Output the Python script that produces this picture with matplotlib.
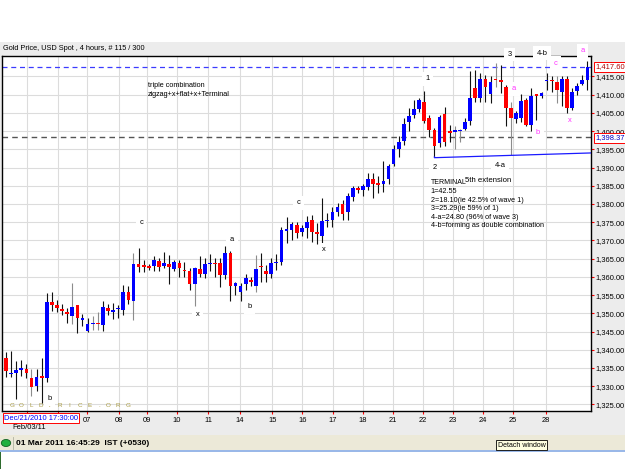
import matplotlib
matplotlib.use('Agg')
import matplotlib.pyplot as plt
from matplotlib.patches import Rectangle, Circle

plt.rcParams['font.family'] = ['Liberation Sans', 'DejaVu Sans']

# ---------------- data (4-hour candles, Gold USD spot) ----------------
opens = [1337.8, 1333.4, 1333.6, 1334.6, 1334.8, 1332.3, 1330.0, 1332.6, 1332.3, 1353.1,
         1352.3, 1351.3, 1350.3, 1349.4, 1352.2, 1348.4, 1345.1, 1347.2, 1347.4, 1346.9,
         1351.4, 1350.3, 1351.2, 1350.8, 1355.8, 1353.5, 1363.5, 1363.2, 1362.9, 1363.1,
         1364.4, 1363.1, 1363.5, 1362.2, 1363.9, 1361.9, 1361.5, 1358.0, 1362.1, 1360.8,
         1363.6, 1363.8, 1363.8, 1360.6, 1366.5, 1357.5, 1355.8, 1358.0, 1359.2, 1357.6,
         1362.9, 1361.6, 1360.9, 1363.9, 1364.2, 1372.8, 1372.9, 1374.3, 1372.2, 1373.4,
         1375.7, 1372.1, 1371.3, 1375.3, 1375.5, 1377.7, 1380.1, 1377.7, 1381.9, 1384.2,
         1383.7, 1384.6, 1386.8, 1385.6, 1385.5, 1386.9, 1391.0, 1395.0, 1397.4, 1402.4,
         1404.5, 1406.0, 1408.1, 1403.5, 1400.2, 1396.7, 1404.7, 1400.1, 1399.9, 1400.0,
         1400.6, 1402.9, 1411.8, 1409.0, 1414.3, 1410.1, 1414.4, 1413.9, 1412.2, 1406.3,
         1403.4, 1403.5, 1408.6, 1401.7, 1410.0, 1409.5, 1413.8, 1414.0, 1413.6, 1410.8,
         1414.3, 1406.3, 1411.0, 1412.9, 1414.0]
highs = [1339.3, 1339.6, 1336.9, 1337.3, 1336.1, 1334.8, 1334.6, 1337.8, 1355.5, 1355.8,
         1353.7, 1352.5, 1351.4, 1358.3, 1352.3, 1349.8, 1348.7, 1349.2, 1350.3, 1353.3,
         1352.5, 1352.8, 1352.3, 1357.8, 1357.4, 1366.5, 1367.8, 1364.7, 1363.6, 1365.8,
         1365.1, 1366.9, 1366.0, 1364.7, 1364.7, 1364.0, 1362.4, 1362.6, 1365.8, 1365.1,
         1366.2, 1365.1, 1365.1, 1368.6, 1367.1, 1358.5, 1358.3, 1360.7, 1360.1, 1366.0,
         1366.5, 1363.3, 1365.3, 1366.2, 1373.8, 1376.5, 1375.1, 1375.1, 1374.3, 1376.6,
         1377.1, 1374.8, 1381.6, 1377.5, 1379.3, 1380.3, 1381.2, 1383.0, 1385.0, 1384.8,
         1385.5, 1388.5, 1388.5, 1387.6, 1391.7, 1391.0, 1396.2, 1398.7, 1403.5, 1406.3,
         1408.6, 1409.0, 1411.1, 1404.5, 1400.8, 1404.5, 1406.7, 1401.7, 1401.3, 1400.6,
         1403.5, 1416.6, 1416.8, 1415.9, 1415.4, 1415.0, 1418.6, 1418.2, 1412.7, 1408.1,
         1405.5, 1410.1, 1409.2, 1411.7, 1410.1, 1410.8, 1415.9, 1415.2, 1415.0, 1415.0,
         1415.0, 1411.7, 1413.1, 1415.4, 1419.1]
lows = [1332.5, 1332.5, 1326.6, 1332.7, 1332.3, 1327.4, 1328.6, 1325.5, 1331.1, 1350.7,
        1350.3, 1349.6, 1347.3, 1347.1, 1344.6, 1346.4, 1345.0, 1345.5, 1345.5, 1345.2,
        1349.6, 1348.5, 1348.7, 1349.6, 1352.5, 1348.2, 1361.3, 1361.3, 1361.8, 1361.7,
        1361.5, 1362.4, 1358.1, 1361.5, 1360.1, 1360.1, 1356.5, 1351.9, 1360.1, 1359.6,
        1361.5, 1360.1, 1357.2, 1359.5, 1353.3, 1355.1, 1353.5, 1356.5, 1357.4, 1355.8,
        1358.7, 1358.7, 1359.6, 1361.9, 1363.3, 1369.4, 1370.1, 1370.7, 1371.1, 1370.7,
        1369.7, 1368.9, 1368.4, 1373.6, 1373.7, 1376.6, 1375.7, 1375.7, 1380.7, 1383.0,
        1382.3, 1383.9, 1381.6, 1383.0, 1383.4, 1385.5, 1390.3, 1393.0, 1396.2, 1399.9,
        1403.5, 1405.1, 1402.2, 1398.3, 1392.9, 1395.6, 1395.8, 1397.1, 1395.1, 1397.1,
        1400.3, 1401.7, 1408.1, 1408.1, 1408.1, 1407.6, 1412.2, 1410.4, 1401.3, 1393.5,
        1402.1, 1402.6, 1401.3, 1400.1, 1403.1, 1409.0, 1411.3, 1410.8, 1407.6, 1406.8,
        1404.9, 1405.8, 1409.9, 1412.6, 1411.3]
closes = [1334.1, 1333.6, 1334.4, 1334.9, 1333.6, 1329.7, 1332.6, 1332.4, 1353.1, 1352.2,
          1351.4, 1350.7, 1349.8, 1351.6, 1348.7, 1348.5, 1347.1, 1347.4, 1347.2, 1351.6,
          1350.7, 1351.0, 1351.4, 1355.8, 1353.7, 1363.5, 1362.7, 1362.6, 1362.3, 1364.7,
          1362.8, 1363.7, 1362.6, 1364.0, 1362.4, 1361.5, 1358.0, 1362.4, 1360.7, 1363.6,
          1363.8, 1363.7, 1360.6, 1366.5, 1357.4, 1358.3, 1357.5, 1359.6, 1358.5, 1362.1,
          1362.7, 1360.9, 1363.7, 1364.0, 1372.9, 1372.9, 1374.5, 1372.0, 1373.4, 1375.0,
          1372.2, 1371.9, 1375.2, 1375.6, 1377.7, 1379.3, 1377.3, 1382.1, 1384.4, 1384.0,
          1384.8, 1386.8, 1385.5, 1385.4, 1386.2, 1390.3, 1395.0, 1397.1, 1402.0, 1404.2,
          1406.1, 1408.4, 1402.9, 1400.2, 1396.0, 1403.8, 1397.0, 1399.4, 1400.1, 1400.2,
          1402.6, 1409.0, 1409.0, 1414.3, 1412.2, 1413.4, 1414.0, 1413.6, 1406.3, 1403.5,
          1404.9, 1408.3, 1401.7, 1409.7, 1409.8, 1410.4, 1414.0, 1413.8, 1411.3, 1414.3,
          1406.3, 1410.8, 1412.5, 1414.0, 1417.6]
gray_wick_idx = [5, 13, 17, 18, 25, 37, 49, 88, 89, 96, 99, 108]

day_tick_pos = [4.1, 10.2, 15.9, 22.2, 27.6, 33.5, 39.6, 45.9, 52.2, 58.1,
                64.1, 70.0, 75.9, 81.8, 87.6, 93.5, 99.4, 105.9]
day_tick_labels = ['', '', '07', '08', '09', '10', '11', '14', '15', '16',
                   '17', '18', '21', '22', '23', '24', '25', '28']
price_ticks = [1325, 1330, 1335, 1340, 1345, 1350, 1355, 1360, 1365, 1370,
               1375, 1380, 1385, 1390, 1395, 1400, 1405, 1410, 1415]
last_price = 1417.60
ref_price = 1398.37
trend_x = [84.0, 84.0, 114.7]
trend_y = [1392.9, 1392.7, 1394.0]

wave_labels_black = [('1', 82.7, 1414.3), ('2', 84.1, 1390.0), ('3', 98.8, 1421.0),
                     ('4-b', 105.1, 1421.3), ('4-a', 96.9, 1390.6),
                     ('c', 26.5, 1374.8), ('a', 44.3, 1370.3), ('x', 37.6, 1349.8),
                     ('b', 47.8, 1351.8), ('c', 57.3, 1380.3), ('x', 62.4, 1367.4),
                     ('b', 8.6, 1326.5)]
wave_labels_magenta = [('a', 113.1, 1422.0), ('c', 107.8, 1418.6), ('a', 99.6, 1411.6),
                       ('b', 104.3, 1399.5), ('x', 110.6, 1402.8)]
note_lines = ['triple combination', 'zigzag+x+flat+x+Terminal']
terminal_lines = ['1=42.55', '2=18.10(ie 42.5% of wave 1)', '3=25.29(ie 59% of 1)',
                  '4-a=24.80 (96% of wave 3)', '4-b=forming as double combination']

# ---------------- figure ----------------
W, H = 625, 469
fig = plt.figure(figsize=(6.25, 4.69), dpi=100)
fig.patch.set_facecolor('white')


def fx(x):
    return x / W


def fy(y):
    return 1 - y / H


# window chrome (drawn beneath the axes)
fig.patches.append(Rectangle((0, fy(435)), 1, fy(42) - fy(435), transform=fig.transFigure,
                             facecolor='#ececec', edgecolor='none', zorder=-5))
fig.patches.append(Rectangle((0, fy(450)), 1, fy(435) - fy(450), transform=fig.transFigure,
                             facecolor='#ece9d8', edgecolor='none', zorder=-5))
fig.patches.append(Rectangle((0, fy(452)), 1, fy(450) - fy(452), transform=fig.transFigure,
                             facecolor='#9ab8e8', edgecolor='none', zorder=-5))
fig.patches.append(Rectangle((0, 0), fx(1.5), fy(452), transform=fig.transFigure,
                             facecolor='#2e6b2e', edgecolor='none', zorder=-5))
fig.patches.append(Circle((fx(6), fy(443)), 0.0075, transform=fig.transFigure,
                          facecolor='#20b040', edgecolor='#106020', lw=0.6, zorder=-4))
fig.lines.append(plt.Line2D([fx(13), fx(13)], [fy(437), fy(449)], transform=fig.transFigure,
                            color='#b0b0a0', lw=0.6, zorder=-4))
fig.text(fx(16), fy(443), '01 Mar 2011 16:45:29  IST (+0530)', fontsize=6, fontweight='bold',
         va='center', ha='left')
fig.text(fx(498), fy(445), 'Detach window', fontsize=5, va='center', ha='left',
         bbox=dict(facecolor='#ffffe1', edgecolor='black', lw=0.6, pad=1.2))
fig.text(fx(3), fy(49), 'Gold Price, USD Spot , 4 hours, # 115 / 300', fontsize=5.3,
         va='center', ha='left')

ax = fig.add_axes([fx(2), fy(411), fx(591) - fx(2), fy(56) - fy(411)])
ax.set_zorder(2)
ax.set_facecolor('white')
ax.set_xlim(-0.78, 114.7)
ax.set_ylim(1323.2, 1420.6)

n = len(opens)
xs = list(range(n))
up_color, dn_color = '#0000ff', '#ff0000'
body_colors = [up_color if c >= o else dn_color for o, c in zip(opens, closes)]
wick_colors = ['#8c8c8c' if i in gray_wick_idx else '#111111' for i in xs]
ax.vlines(xs, lows, highs, colors=wick_colors, lw=0.8, zorder=3)
heights = [max(abs(c - o), 0.35) for o, c in zip(opens, closes)]
bottoms = [(o + c) / 2 - h / 2 for o, c, h in zip(opens, closes, heights)]
ax.bar(xs, heights, bottom=bottoms, width=0.72, color=body_colors, zorder=4, linewidth=0)

# grid & axes
ax.set_yticks(price_ticks)
ax.set_yticklabels(['{:,.2f}'.format(v) for v in price_ticks])
ax.set_xticks(day_tick_pos)
ax.set_xticklabels(day_tick_labels)
ax.yaxis.tick_right()
ax.grid(True, color='#dcdcdc', lw=0.8, zorder=0)
ax.set_axisbelow(True)
ax.tick_params(axis='y', colors='#ff0000', labelcolor='black', length=2.5, width=0.8,
               labelsize=5.4, pad=1)
ax.tick_params(axis='x', colors='#ff0000', labelcolor='black', length=2, width=0.8,
               labelsize=5.4, pad=2)
for s in ax.spines.values():
    s.set_color('black')
    s.set_linewidth(1.0)

# reference lines
ax.axhline(last_price, color='#3b3bff', lw=0.9, ls=(0, (4, 3)), zorder=2)
ax.axhline(ref_price, color='#555555', lw=1.0, ls=(0, (4, 3)), zorder=2)
ax.plot(trend_x, trend_y, color='#1a1aff', lw=0.9, zorder=5)

ytr = ax.get_yaxis_transform()
ax.text(1.0075, last_price, '1,417.60', transform=ytr, fontsize=5.4, color='#b00000',
        va='center', ha='left', clip_on=False, zorder=7,
        bbox=dict(facecolor='white', edgecolor='#ff0000', lw=0.7, pad=0.8))
ax.text(1.0075, ref_price - 0.25, '1,398.37', transform=ytr, fontsize=5.4, color='#0000c0',
        va='center', ha='left', clip_on=False, zorder=7,
        bbox=dict(facecolor='white', edgecolor='#ff0000', lw=0.7, pad=0.8))

# watermark
wm = 'GOLDPRICE.ORG'
for k, ch in enumerate(wm):
    ax.text(1.1 + k * 1.9, 1324.6, ch, fontsize=4.5, color='#a89a40', ha='center',
            va='center', zorder=1)

# wave labels
for t, xi, yi in wave_labels_black:
    ax.text(xi, yi, t, fontsize=5.4, color='black', ha='center', va='center', zorder=6,
            clip_on=False, bbox=dict(facecolor='white', edgecolor='none', pad=2.5))
for t, xi, yi in wave_labels_magenta:
    ax.text(xi, yi, t, fontsize=5.4, color='#ff30ff', ha='center', va='center', zorder=6,
            clip_on=False, bbox=dict(facecolor='white', edgecolor='none', pad=2.5))

ax.text(27.8, 1412.4, note_lines[0], fontsize=5.2, ha='left', va='center', zorder=6)
ax.text(27.8, 1410.0, note_lines[1], fontsize=5.2, ha='left', va='center', zorder=6)
ax.text(83.3, 1386.0, 'TERMINAL', fontsize=5.0, ha='left', va='center', zorder=6)
ax.text(90.0, 1386.4, '5th extension', fontsize=5.6, ha='left', va='center', zorder=6)
for k, line in enumerate(terminal_lines):
    ax.text(83.3, 1383.4 - 2.35 * k, line, fontsize=5.2, ha='left', va='center', zorder=6)

# cursor date box
fig.text(fx(4), fy(418), 'Dec/21/2010 17:30:00', fontsize=5.4, color='#0000ff', ha='left',
         va='center', zorder=5,
         bbox=dict(facecolor='white', edgecolor='#ff0000', lw=0.7, pad=0.9))
fig.text(fx(12), fy(427), 'Feb/03/11', fontsize=5.4, color='black', ha='left', va='center')

fig.savefig('out.png', dpi=100, facecolor=fig.get_facecolor())
